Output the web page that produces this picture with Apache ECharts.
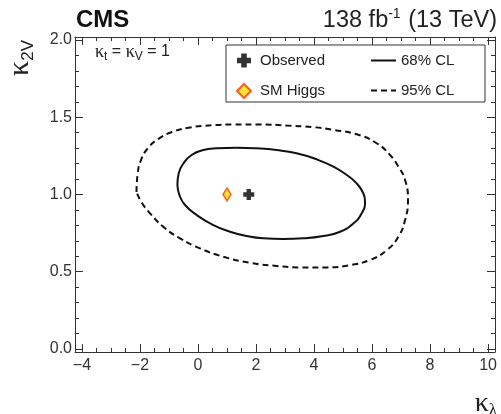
<!DOCTYPE html>
<html><head><meta charset="utf-8">
<script src="https://cdn.jsdelivr.net/npm/echarts@6/dist/echarts.min.js"></script>
<style>html,body{margin:0;padding:0;background:#fff}#c{width:501px;height:414px}</style>
</head><body><div id="c"></div>
<script>
// ---- data ----
const xMajorTicks = [-4, -2, 0, 2, 4, 6, 8, 10];
const xMinorTicks = [-3.5, -3, -2.5, -1.5, -1, -0.5, 0.5, 1, 1.5, 2.5, 3, 3.5, 4.5, 5, 5.5, 6.5, 7, 7.5, 8.5, 9, 9.5];
const yMajorTicks = [0, 0.5, 1, 1.5, 2];
const yMinorTicks = [0.1, 0.2, 0.3, 0.4, 0.6, 0.7, 0.8, 0.9, 1.1, 1.2, 1.3, 1.4, 1.6, 1.7, 1.8, 1.9];

const cl68_kl  = [-0.71, -0.665, -0.50, -0.22, 0.185, 0.645, 1.335, 2.02, 2.71, 3.40, 4.09, 4.67, 5.13, 5.47, 5.70, 5.76, 5.645, 5.36, 4.90, 4.32, 3.63, 2.94, 2.25, 1.68, 1.105, 0.53, -0.045, -0.447, -0.642, -0.71];
const cl68_k2v = [1.061, 1.137, 1.202, 1.256, 1.288, 1.299, 1.303, 1.299, 1.288, 1.267, 1.228, 1.180, 1.126, 1.072, 1.008, 0.953, 0.878, 0.813, 0.759, 0.731, 0.716, 0.712, 0.716, 0.731, 0.759, 0.802, 0.867, 0.932, 0.997, 1.061];

const cl95_kl  = [-2.12, -2.085, -1.964, -1.723, -1.378, -0.895, -0.274, 0.484, 1.22, 2.14, 3.06, 3.98, 4.67, 5.47, 6.16, 6.62, 6.91, 7.14, 7.24, 7.14, 6.91, 6.51, 5.93, 5.24, 4.44, 3.52, 2.715, 1.794, 0.874, 0.07, -0.619, -1.195, -1.654, -1.93, -2.12];
const cl95_k2v = [1.016, 1.126, 1.223, 1.301, 1.359, 1.405, 1.434, 1.448, 1.453, 1.453, 1.447, 1.436, 1.418, 1.390, 1.332, 1.256, 1.180, 1.094, 0.964, 0.835, 0.727, 0.640, 0.576, 0.543, 0.528, 0.528, 0.537, 0.558, 0.597, 0.651, 0.716, 0.791, 0.878, 0.945, 1.016];

const observed = [1.75, 1.0];
const smHiggs = [1.0, 1.0];

// ---- chart ----
const XMIN = -4.24, XMAX = 10.24, YMIN = -0.02, YMAX = 2.02;
const FRAME = '#333';
const SANS = '"Liberation Sans", Arial, sans-serif';
const SERIF = '"Liberation Serif", "DejaVu Serif", serif';

function zip(a, b) { return a.map((v, i) => [v, b[i]]); }

function axisDef(pos, ticks, len, showLine, labels, isX) {
  return {
    type: 'value', position: pos, min: isX ? XMIN : YMIN, max: isX ? XMAX : YMAX,
    axisLine: { show: showLine, onZero: false, lineStyle: { color: FRAME, width: 1 } },
    axisTick: { show: true, inside: true, length: len, customValues: ticks, lineStyle: { color: FRAME, width: 1 } },
    axisLabel: labels ? {
      show: true, customValues: ticks, fontSize: 16, color: '#333', fontFamily: SANS,
      margin: isX ? 6 : 3,
      formatter: isX ? (v => (v < 0 ? '\u2212' + Math.abs(v) : String(v))) : (v => v.toFixed(1))
    } : { show: false },
    splitLine: { show: false }, minorTick: { show: false }
  };
}

const chart = echarts.init(document.getElementById('c'), null, { renderer: 'canvas', width: 501, height: 414 });
chart.setOption({
  animation: false,
  backgroundColor: '#fff',
  grid: { left: 75, right: 6, top: 37, bottom: 62, containLabel: false },
  xAxis: [
    axisDef('bottom', xMajorTicks, 8, true, true, true),
    axisDef('bottom', xMinorTicks, 4, false, false, true),
    axisDef('top', xMajorTicks, 8, true, false, true),
    axisDef('top', xMinorTicks, 4, false, false, true)
  ],
  yAxis: [
    axisDef('left', yMajorTicks, 8, true, true, false),
    axisDef('left', yMinorTicks, 4, false, false, false),
    axisDef('right', yMajorTicks, 8, true, false, false),
    axisDef('right', yMinorTicks, 4, false, false, false)
  ],
  legend: [
    { data: ['Observed', 'SM Higgs'], orient: 'vertical', left: 236, top: 53, padding: 0,
      itemWidth: 14, itemHeight: 14, itemGap: 15,
      textStyle: { fontSize: 15, color: '#222', fontFamily: SANS, padding: [0, 0, 0, 4] } },
    { data: ['68% CL', '95% CL'], orient: 'vertical', left: 370, top: 53, padding: 0,
      itemWidth: 25, itemHeight: 14, itemGap: 15, itemStyle: { opacity: 0 },
      textStyle: { fontSize: 15, color: '#222', fontFamily: SANS } }
  ],
  graphic: [
    { type: 'rect', z: 0, shape: { x: 226, y: 45, width: 259, height: 57 },
      style: { fill: '#fff', stroke: FRAME, lineWidth: 1 } },
    { type: 'text', x: 76, y: 20, style: { text: 'CMS', font: 'bold 24px ' + SANS, fill: '#111', textVerticalAlign: 'middle', textAlign: 'left' } },
    { type: 'text', x: 497, y: 21, style: {
        text: '138 fb{sup|-1} (13 TeV)', textAlign: 'right', textVerticalAlign: 'middle',
        font: '23.5px ' + SANS, fill: '#222',
        rich: { sup: { fontSize: 14, fontFamily: SANS, fill: '#222', padding: [0, 1, 13, 0] } } } },
    { type: 'text', x: 95, y: 52, style: {
        text: '{k|κ}{s|t}{n| = }{k|κ}{s|V}{n| = 1}', textAlign: 'left', textVerticalAlign: 'middle',
        rich: {
          k: { fontSize: 18, fontFamily: SERIF, fill: '#222' },
          s: { fontSize: 12, fontFamily: SANS, fill: '#222', padding: [9, 0, 0, 0] },
          n: { fontSize: 16, fontFamily: SANS, fill: '#222' }
        } } },
    { type: 'text', x: 20, y: 40, rotation: Math.PI / 2, style: {
        text: '{k|κ}{s|2V}', textAlign: 'right', textVerticalAlign: 'middle',
        rich: {
          k: { fontSize: 30, fontFamily: SERIF, fill: '#222' },
          s: { fontSize: 17, fontFamily: SANS, fill: '#222', padding: [16, 0, 0, 0] }
        } } },
    { type: 'text', x: 497, y: 404, style: {
        text: '{k|κ}{s|λ}', textAlign: 'right', textVerticalAlign: 'middle',
        rich: {
          k: { fontSize: 28, fontFamily: SERIF, fill: '#222' },
          s: { fontSize: 17, fontFamily: SERIF, fill: '#222', padding: [14, 0, 0, 0] }
        } } }
  ],
  series: [
    { name: '68% CL', type: 'line', xAxisIndex: 0, yAxisIndex: 0, data: zip(cl68_kl, cl68_k2v),
      smooth: 0.5, symbol: 'none', lineStyle: { color: '#111', width: 2, type: 'solid' }, itemStyle: { color: '#111' }, z: 3 },
    { name: '95% CL', type: 'line', xAxisIndex: 0, yAxisIndex: 0, data: zip(cl95_kl, cl95_k2v),
      smooth: 0.5, symbol: 'none', lineStyle: { color: '#111', width: 2, type: [6, 4] }, itemStyle: { color: '#111' }, z: 3 },
    { name: 'Observed', type: 'scatter', xAxisIndex: 0, yAxisIndex: 0, data: [observed],
      symbol: 'path://M3,0 H7 V3 H10 V7 H7 V10 H3 V7 H0 V3 H3 Z', symbolSize: 11,
      itemStyle: { color: '#000' }, z: 5 },
    { name: 'SM Higgs', type: 'scatter', xAxisIndex: 0, yAxisIndex: 0, data: [smHiggs],
      symbol: 'diamond', symbolSize: [8, 13],
      itemStyle: { color: '#ffdd00', borderColor: '#ff3300', borderWidth: 1.5 }, z: 5 }
  ]
});
</script></body></html>
